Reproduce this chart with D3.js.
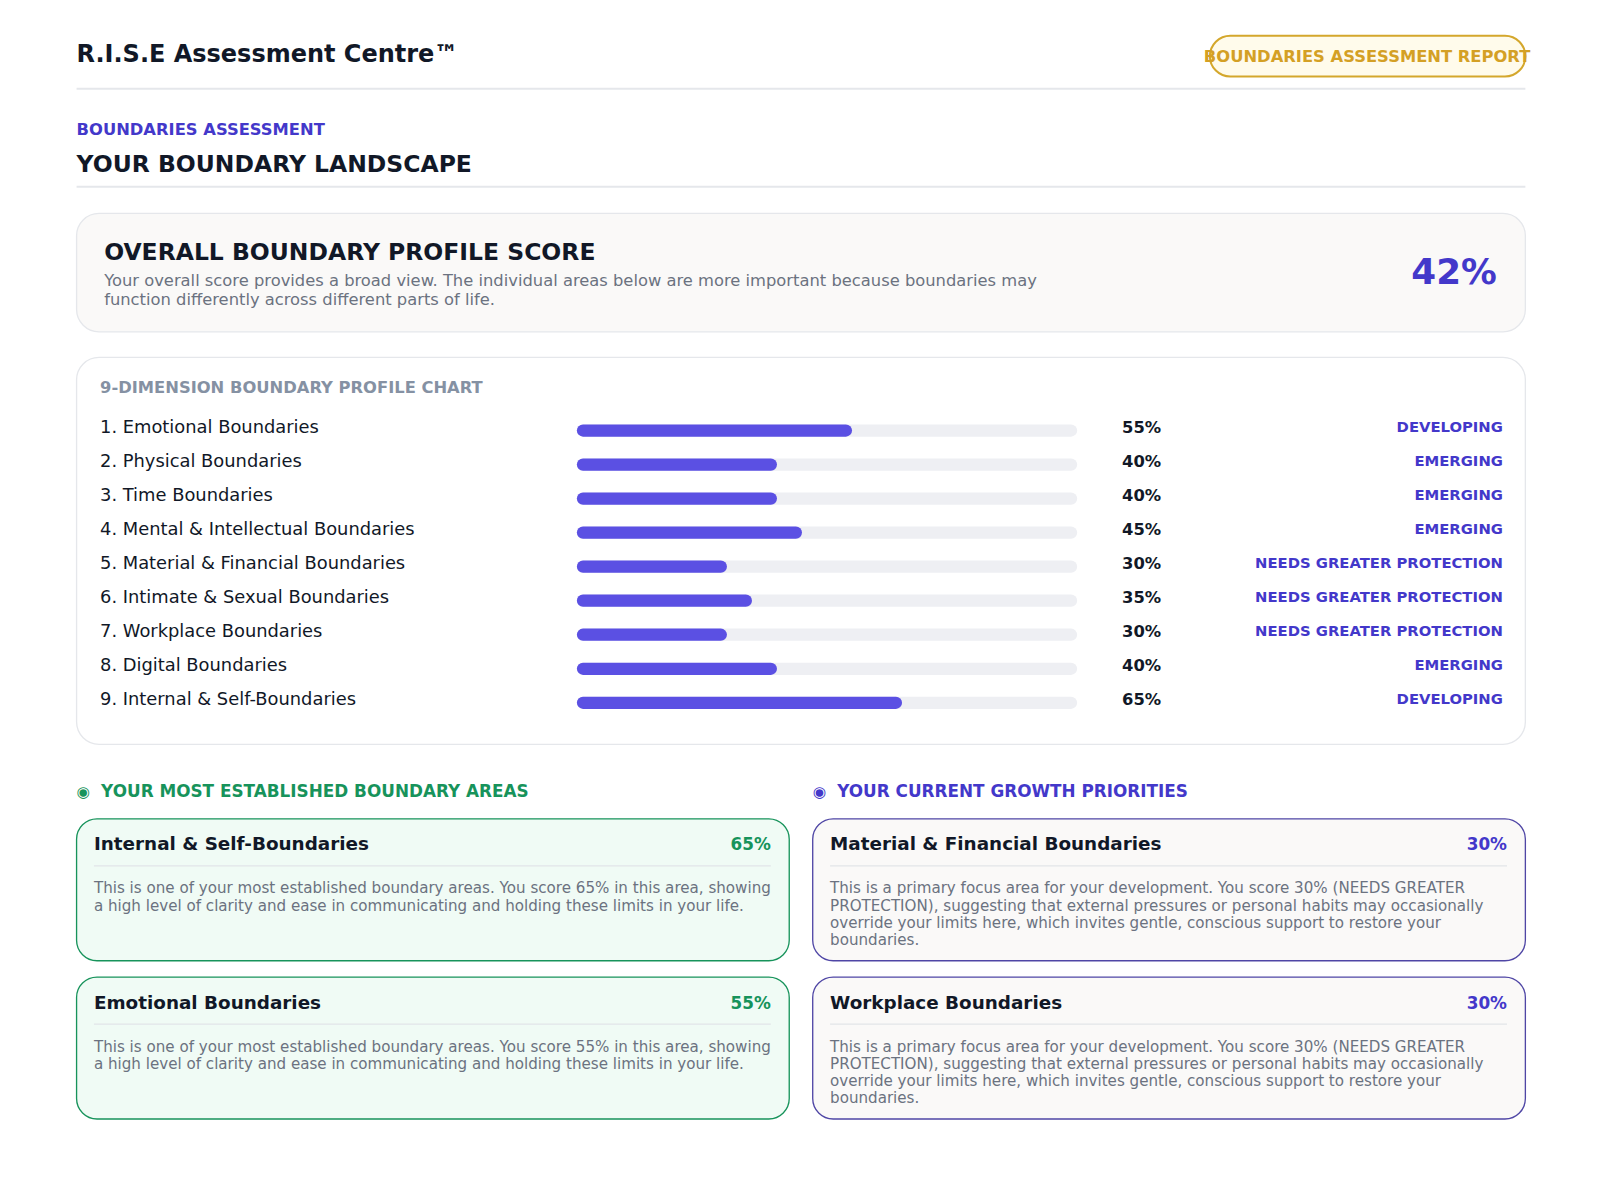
<!DOCTYPE html>
<html>
<head>
<meta charset="utf-8">
<script src="https://cdn.jsdelivr.net/npm/d3@7"></script>
<style>
  body { margin: 0; background: #fff; }
  svg { font-family: "DejaVu Sans", sans-serif; display: block; }
</style>
</head>
<body>
<div id="chart"></div>
<script>
const W = 1600, H = 1180;
const indigo = "#4338ca", barColor = "#5b50e3", green = "#17935b", dark = "#111827", gray = "#6b7280";

const dims = [
  { name: "1. Emotional Boundaries", value: 55, status: "DEVELOPING" },
  { name: "2. Physical Boundaries", value: 40, status: "EMERGING" },
  { name: "3. Time Boundaries", value: 40, status: "EMERGING" },
  { name: "4. Mental & Intellectual Boundaries", value: 45, status: "EMERGING" },
  { name: "5. Material & Financial Boundaries", value: 30, status: "NEEDS GREATER PROTECTION" },
  { name: "6. Intimate & Sexual Boundaries", value: 35, status: "NEEDS GREATER PROTECTION" },
  { name: "7. Workplace Boundaries", value: 30, status: "NEEDS GREATER PROTECTION" },
  { name: "8. Digital Boundaries", value: 40, status: "EMERGING" },
  { name: "9. Internal & Self-Boundaries", value: 65, status: "DEVELOPING" }
];

const strongText = v => [
  `This is one of your most established boundary areas. You score ${v}% in this area, showing`,
  "a high level of clarity and ease in communicating and holding these limits in your life."
];
const growthText = v => [
  `This is a primary focus area for your development. You score ${v}% (NEEDS GREATER`,
  "PROTECTION), suggesting that external pressures or personal habits may occasionally",
  "override your limits here, which invites gentle, conscious support to restore your",
  "boundaries."
];

// page is laid out on a slightly smaller grid, then scaled up to fill the window
const svg = d3.select("#chart").append("svg").attr("width", W).attr("height", H)
  .append("g").attr("transform", "scale(1.021)");

function txt(x, y, s, o = {}) {
  return svg.append("text").attr("x", x).attr("y", y)
    .attr("font-size", o.size || 16).attr("font-weight", o.weight || "normal")
    .attr("fill", o.fill || dark).attr("text-anchor", o.anchor || "start")
    .text(s);
}
function card(x, y, w, h, fill, stroke, r) {
  svg.append("rect").attr("x", x).attr("y", y).attr("width", w).attr("height", h)
    .attr("rx", r).attr("fill", fill).attr("stroke", stroke).attr("stroke-width", 1.3);
}
function hline(x1, x2, y, c = "#e5e7eb", w = 2) {
  svg.append("line").attr("x1", x1).attr("x2", x2).attr("y1", y).attr("y2", y)
    .attr("stroke", c).attr("stroke-width", w);
}

// header
txt(75, 61, "R.I.S.E Assessment Centre™", { size: 23.5, weight: "bold" });
svg.append("rect").attr("x", 1185).attr("y", 35).attr("width", 309).attr("height", 40)
  .attr("rx", 20).attr("fill", "#fffbeb").attr("stroke", "#d4a72c").attr("stroke-width", 2);
txt(1339, 61, "BOUNDARIES ASSESSMENT REPORT", { size: 16, weight: "bold", fill: "#d4a025", anchor: "middle" });
hline(75, 1494, 87);

txt(75, 132, "BOUNDARIES ASSESSMENT", { size: 16, weight: "bold", fill: indigo });
txt(75, 168, "YOUR BOUNDARY LANDSCAPE", { size: 23, weight: "bold" });
hline(75, 1494, 183);

// overall score
card(75, 209, 1419, 116, "#faf9f8", "#e5e7eb", 22);
txt(102, 255, "OVERALL BOUNDARY PROFILE SCORE", { size: 23, weight: "bold" });
txt(102, 280, "Your overall score provides a broad view. The individual areas below are more important because boundaries may", { size: 16, fill: gray });
txt(102, 299, "function differently across different parts of life.", { size: 16, fill: gray });
txt(1466, 278, "42%", { size: 35, weight: "bold", fill: indigo, anchor: "end" });

// dimension chart
card(75, 350, 1419, 379, "#fff", "#e5e7eb", 22);
txt(98, 385, "9-DIMENSION BOUNDARY PROFILE CHART", { size: 16, weight: "bold", fill: "#8591a3" });

const x = d3.scaleLinear().domain([0, 100]).range([565, 1055]);
const y = d3.scaleBand().domain(dims.map(d => d.name)).range([402, 702]).paddingInner(0);
const bh = 12;

const rows = svg.append("g").selectAll("g").data(dims).join("g")
  .attr("transform", d => `translate(0,${y(d.name) + y.bandwidth() / 2})`);
rows.append("text").attr("x", 98).attr("y", 0).attr("dy", "0.32em")
  .attr("font-size", 17.5).attr("fill", dark).text(d => d.name);
rows.append("rect").attr("x", x(0)).attr("y", -bh / 2 + 3).attr("height", bh)
  .attr("width", x(100) - x(0)).attr("rx", bh / 2).attr("fill", "#eeeff3");
rows.append("rect").attr("x", x(0)).attr("y", -bh / 2 + 3).attr("height", bh)
  .attr("width", d => x(d.value) - x(0)).attr("rx", bh / 2).attr("fill", barColor);
rows.append("text").attr("x", 1099).attr("y", 0).attr("dy", "0.32em")
  .attr("font-size", 16).attr("font-weight", "bold").attr("fill", dark).text(d => d.value + "%");
rows.append("text").attr("x", 1472).attr("y", 0).attr("dy", "0.32em").attr("text-anchor", "end")
  .attr("font-size", 14.5).attr("font-weight", "bold").attr("fill", indigo).text(d => d.status);

// highlight cards
const strongest = dims.slice().sort((a, b) => b.value - a.value).slice(0, 2);
const weakest = dims.filter(d => d.value === 30);
const clean = n => n.replace(/^\d+\.\s*/, "");

function section(x0, title, color, items, fill, stroke, bodyFn) {
  txt(x0, 781, "◉", { size: 15, fill: color });
  txt(x0 + 24, 781, title, { size: 16.5, weight: "bold", fill: color });
  items.forEach((d, i) => {
    const top = 802 + i * 155;
    card(x0, top, 698, 139, fill, stroke, 20);
    txt(x0 + 17, top + 31, clean(d.name), { size: 18, weight: "bold" });
    txt(x0 + 680, top + 31, d.value + "%", { size: 16.5, weight: "bold", fill: color, anchor: "end" });
    hline(x0 + 17, x0 + 680, top + 46, "#e2e5e8", 1.2);
    bodyFn(d.value).forEach((line, j) =>
      txt(x0 + 17, top + 73 + j * 16.8, line, { size: 14.8, fill: gray }));
  });
}
section(75, "YOUR MOST ESTABLISHED BOUNDARY AREAS", green, strongest, "#f0fbf5", green, strongText);
section(796, "YOUR CURRENT GROWTH PRIORITIES", indigo, weakest, "#faf9f8", "#4f46a5", growthText);
</script>
</body>
</html>
